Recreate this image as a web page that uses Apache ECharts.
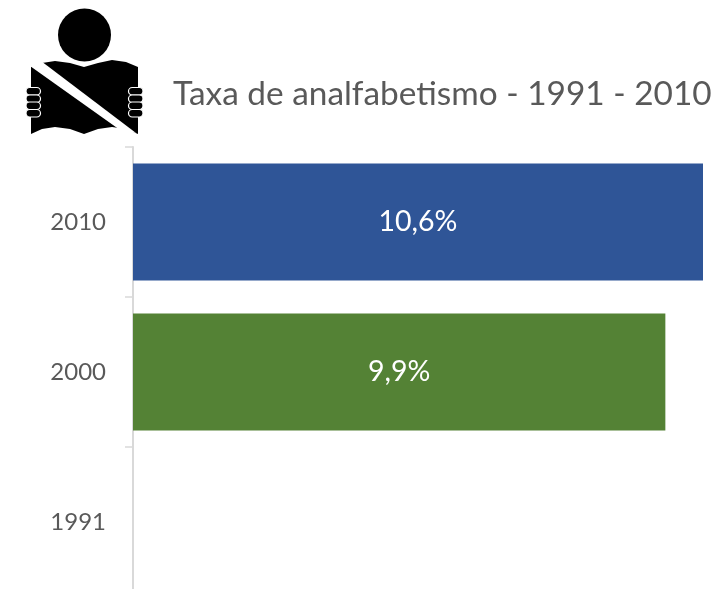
<!DOCTYPE html>
<html>
<head>
<meta charset="utf-8">
<title>Taxa de analfabetismo</title>
<script src="https://cdn.jsdelivr.net/npm/echarts@6/dist/echarts.min.js"></script>
<style>
  html, body { margin: 0; padding: 0; background: #fff; overflow: hidden; }
  #chart { width: 722px; height: 589px; }
</style>
</head>
<body>
<div id="chart"></div>
<script>
const years = ['1991', '2000', '2010']
const rates = [null, 9.9, 10.6]
const barColors = ['#A5A5A5', '#548235', '#2F5597']
const titleText = 'Taxa de analfabetismo - 1991 - 2010'

const FONT = 'Lato, "Open Sans", sans-serif'
const GREY = '#595959'

// book pages, with the white band cut across them
const bookPoints = [
  [31, 67], [42, 63], [55, 61], [70, 63], [84, 67], [98, 63], [112, 60], [126, 62], [138, 67],
  [138, 134], [126, 129], [112, 127], [98, 129], [84, 134], [70, 129], [55, 127], [42, 129], [31, 134],
]
const bandPoints = [[30, 66], [41, 61], [136, 133], [120, 130]]

function finger(x, y) {
  return {
    type: 'rect',
    shape: { x: x, y: y, width: 14.5, height: 7.5, r: 3.7 },
    style: { fill: '#000', stroke: '#fff', lineWidth: 1.2 },
  }
}

const fingerRows = [87.5, 95, 102, 109.5]
const icon = [
  { type: 'circle', shape: { cx: 84.5, cy: 35, r: 26.5 }, style: { fill: '#000' } },
  { type: 'polygon', shape: { points: bookPoints }, style: { fill: '#000' } },
  { type: 'polygon', shape: { points: bandPoints }, style: { fill: '#fff' } },
]
fingerRows.forEach(function (y) {
  icon.push(finger(26, y))
  icon.push(finger(128.5, y))
})

const chart = echarts.init(document.getElementById('chart'))
chart.setOption({
  animation: false,
  backgroundColor: '#fff',
  title: {
    text: titleText,
    left: 168,
    top: 73,
    textStyle: { color: GREY, fontFamily: FONT, fontSize: 33.4, fontWeight: 'normal' },
  },
  graphic: icon,
  grid: { left: 133, top: 147, width: 570, height: 450, outerBoundsMode: 'none' },
  xAxis: { type: 'value', min: 0, max: 10.6, show: false },
  yAxis: {
    type: 'category',
    data: years,
    axisLine: { lineStyle: { color: '#D9D9D9', width: 2 } },
    axisTick: { show: true, length: 8, lineStyle: { color: '#D9D9D9', width: 1.5 } },
    axisLabel: { color: GREY, fontFamily: FONT, fontSize: 24, margin: 27 },
  },
  series: [{
    type: 'bar',
    barWidth: 117,
    data: rates.map(function (v, i) {
      return { value: v, itemStyle: { color: barColors[i] } }
    }),
    label: {
      show: true,
      position: 'inside',
      color: '#fff',
      fontFamily: FONT,
      fontSize: 28.5,
      formatter: function (p) {
        return p.value == null ? '' : String(p.value).replace('.', ',') + '%'
      },
    },
  }],
})
</script>
</body>
</html>
